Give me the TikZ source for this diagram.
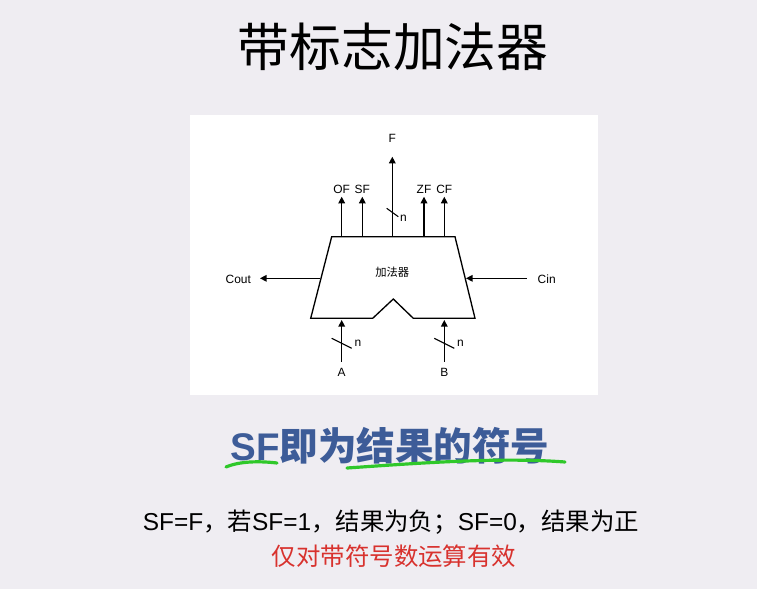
\documentclass[tikz,border=0pt]{standalone}
\usepackage{fontspec}
\setmainfont{Noto Sans CJK SC}
\newfontfamily\cjk{Noto Sans CJK SC}
\newfontfamily\lat{Liberation Sans}
\usetikzlibrary{arrows.meta}
\definecolor{bg}{HTML}{EFEDF2}
\definecolor{hblue}{HTML}{3D5C98}
\definecolor{hgreen}{HTML}{2FC82A}
\definecolor{hred}{HTML}{D8322E}
\begin{document}
\begin{tikzpicture}[x=0.0264583cm,y=-0.0264583cm,
  wire/.style={line width=1pt,-{Triangle[length=5pt,width=5pt]}},
  lbl/.style={font=\lat\fontsize{9}{10}\selectfont,inner sep=0pt},
  bus/.style={line width=0.8pt}]
\fill[bg] (0,0) rectangle (757,589);
\useasboundingbox (0,0) rectangle (757,589);
\fill[white] (190,115) rectangle (598,395);
\node[font=\cjk\fontsize{39}{42}\selectfont] (title) at (393,47) {带标志加法器};
% adder
\draw[line width=1pt] (331.7,236.7) -- (455,236.7) -- (475,318.3) -- (413.3,318.3) -- (393.3,299) -- (372.7,318.3) -- (310.7,318.3) -- cycle;
\node[font=\cjk\fontsize{8.5}{9}\selectfont] (add) at (392.3,272) {加法器};
\coordinate (tOF) at (341.7,236.7); \coordinate (tSF) at (362.3,236.7);
\coordinate (tF) at (392.3,236.7); \coordinate (tZF) at (424,236.7); \coordinate (tCF) at (444.3,236.7);
\node[lbl] (OF) at (341.7,189) {OF}; \node[lbl] (SF) at (362.3,189) {SF};
\node[lbl] (ZF) at (424,189) {ZF}; \node[lbl] (CF) at (444.3,189) {CF};
\node[lbl] (F) at (392.3,138) {F};
\draw[wire] (tOF) -- (341.7,196.7); \draw[wire] (tSF) -- (362.3,196.7);
\draw[wire] (tZF) -- (424,196.7); \draw[wire] (tCF) -- (444.3,196.7);
\draw[wire] (tF) -- (392.3,156.7);
\draw[bus] (386.7,208.3) -- (398.3,216.7); \node[lbl] (nF) at (403.5,218) {n};
% Cout / Cin
\coordinate (lC) at (320,278.3); \coordinate (rC) at (466,278.3);
\node[lbl] (Cout) at (238.3,279) {Cout}; \node[lbl] (Cin) at (546.7,279) {Cin};
\draw[wire] (lC) -- (260,278.3);
\draw[wire] (526.7,278.3) -- (rC);
% A, B
\node[lbl] (A) at (341.7,372) {A}; \node[lbl] (B) at (444.3,372) {B};
\draw[wire] (A.north) ++(0,-6) -- (341.7,320);
\draw[wire] (B.north) ++(0,-6) -- (444.3,320);
\draw[bus] (331.7,338.3) -- (351.7,348.3); \node[lbl] (nA) at (358,343.3) {n};
\draw[bus] (434.3,338.3) -- (454.3,348.3); \node[lbl] (nB) at (460.5,343.3) {n};
% heading
\node[font=\cjk\bfseries\fontsize{29}{32}\selectfont,text=hblue] (head) at (390,446) {{\lat\bfseries SF}即为结果的符号};
\draw[hgreen,line width=2.4pt,line cap=round] (226,467) .. controls (240,461) and (260,461) .. (277,463);
\draw[hgreen,line width=2.4pt,line cap=round] (347,468) .. controls (420,463) and (500,457) .. (565,462);
\node[font=\cjk\fontsize{18.4}{20}\selectfont] (l1) at (391,522) {{\lat SF=F}，若{\lat SF=1}，结果为负；{\lat SF=0}，结果为正};
\node[font=\cjk\fontsize{18.4}{20}\selectfont,text=hred] (l2) at (394,556) {仅对带符号数运算有效};
\end{tikzpicture}
\end{document}
